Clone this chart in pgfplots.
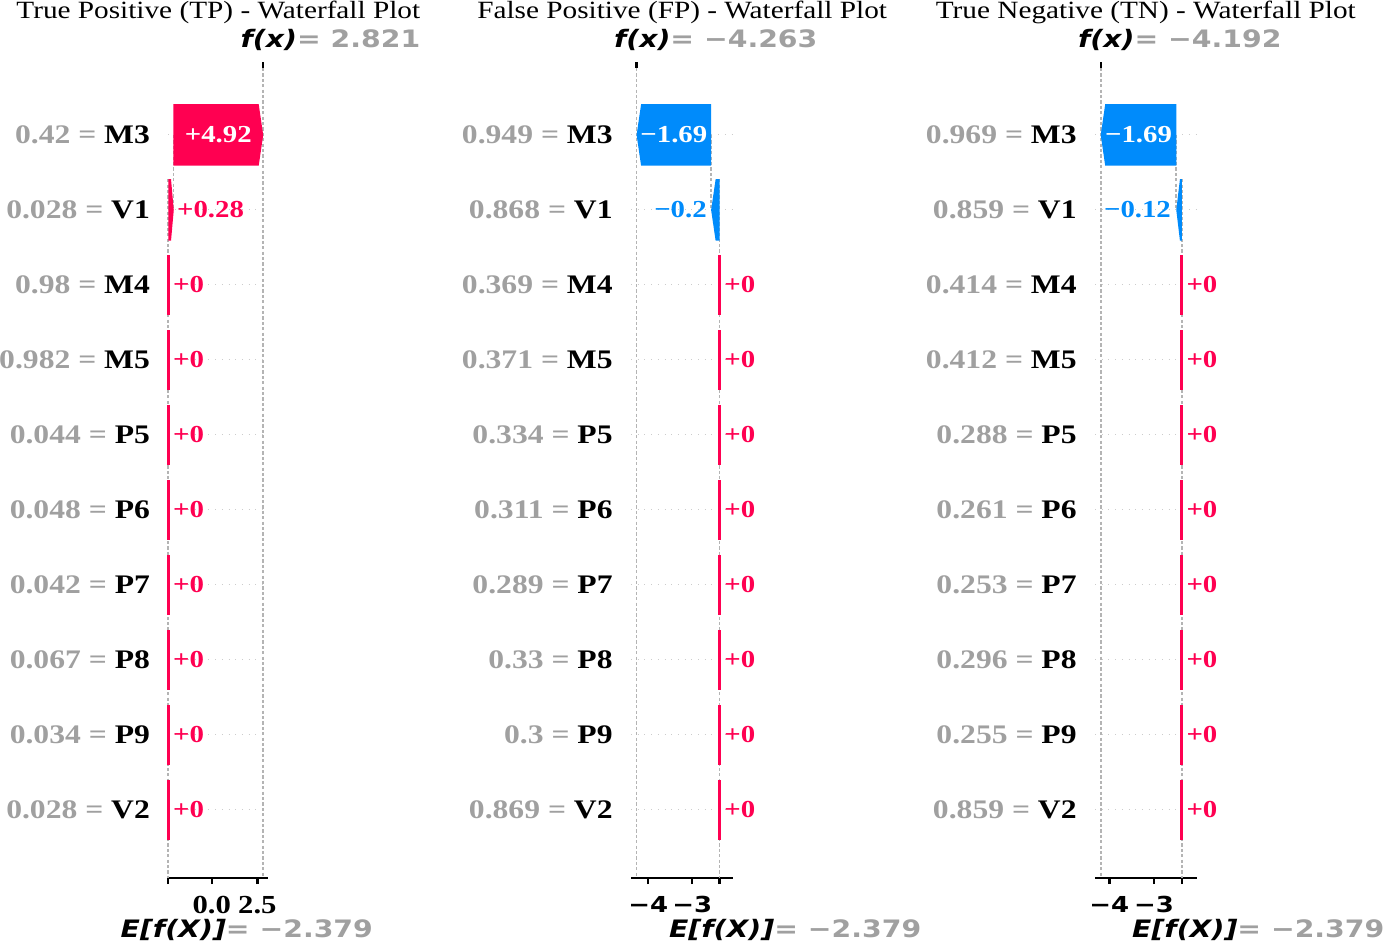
\documentclass[border=0pt]{standalone}
\usepackage{fontspec}
\setmainfont{Liberation Serif}[FakeStretch=1.18]
\newfontfamily\dejavu{DejaVu Sans}[FakeStretch=1.18]
\usepackage{pgfplots}
\pgfplotsset{compat=1.18}

\definecolor{shapred}{HTML}{FF0051}
\definecolor{shapblue}{HTML}{008BFB}
\definecolor{lblgray}{HTML}{A0A0A0}
\definecolor{gridgray}{HTML}{CCCCCC}
\definecolor{dashgray}{HTML}{B4B4B4}

\newcommand{\lbl}[2]{\textcolor{lblgray}{#1 =} #2}
\newcommand{\barfont}{\fontsize{12.2}{14}\selectfont\bfseries}
\newcommand{\fxlabel}[2]{{\dejavu\bfseries\itshape #1}\textcolor{lblgray}{\dejavu\bfseries= #2}}

\pgfplotsset{
  wf/.style={
    scale only axis, height=405pt, anchor=south west,
    ymin=0.107, ymax=10.907, y dir=reverse,
    ytick={1,...,10},
    axis x line*=bottom, axis y line*=left,
    y axis line style={draw=none},
    ytick style={draw=none},
    x axis line style={line width=1.3pt},
    xtick style={line width=1.2pt, black},
    tick align=outside, major tick length=3pt,
    ymajorgrids,
    major grid style={gridgray, line width=0.5pt, dash pattern=on 0.5pt off 2.85pt},
    yticklabel style={font=\fontsize{13.4}{15}\selectfont\bfseries, anchor=east, inner sep=0pt, xshift=-6pt},
    xticklabel style={inner sep=0pt, yshift=-6pt},
    title style={at={(0.5,1)}, anchor=base, yshift=18.5pt, font=\fontsize{12.4}{15}\selectfont},
    clip=false,
  },
  dline/.style={dashgray, line width=0.8pt, dash pattern=on 1.6pt off 1.1pt, forget plot},
  zerobars/.style={only marks, mark=none, forget plot,
    nodes near coords={+0},
    every node near coord/.append style={anchor=west, text=shapred, font=\barfont, inner sep=0pt, xshift=2.2pt},
    error bars/.cd, y dir=both, y fixed=0.4, error mark=none,
    error bar style={shapred, line width=1.3pt}},
}

\begin{document}
\begin{tikzpicture}

% ---- True Positive ----
\begin{axis}[wf, at={(0pt,0pt)}, width=50pt,
  xmin=-2.379, xmax=3.10,
  xtick={-2.379,0,2.5}, xticklabels={,0.0,2.5},
  xticklabel style={font=\fontsize{13}{15}\selectfont\bfseries},
  yticklabels={{\lbl{0.42}{M3}},{\lbl{0.028}{V1}},{\lbl{0.98}{M4}},{\lbl{0.982}{M5}},{\lbl{0.044}{P5}},
               {\lbl{0.048}{P6}},{\lbl{0.042}{P7}},{\lbl{0.067}{P8}},{\lbl{0.034}{P9}},{\lbl{0.028}{V2}}},
  title={True Positive (TP) - Waterfall Plot}]
\addplot[dline] coordinates {(2.821,0.107) (2.821,10.907)};
\addplot[dline] coordinates {(-2.379,1.59) (-2.379,10.907)};
\addplot[dline] coordinates {(-2.099,1) (-2.099,2)};
% M3 +4.92
\addplot[fill=shapred, draw=none, forget plot] coordinates {(-2.099,0.59) (2.574,0.59) (2.821,1) (2.574,1.41) (-2.099,1.41)} -- cycle;
% V1 +0.28
\addplot[fill=shapred, draw=none, forget plot] coordinates {(-2.379,1.59) (-2.23,1.59) (-2.079,2) (-2.23,2.41) (-2.379,2.41)} -- cycle;
\addplot[zerobars] coordinates {(-2.379,3) (-2.379,4) (-2.379,5) (-2.379,6) (-2.379,7) (-2.379,8) (-2.379,9) (-2.379,10)};
\node[text=white, font=\barfont] at (axis cs:0.361,1) {+4.92};
\node[text=shapred, font=\barfont, anchor=west, inner sep=0pt, xshift=1.5pt] at (axis cs:-2.079,2) {+0.28};
\draw[line width=1.2pt] (axis cs:2.821,0.107) -- ([yshift=3pt]axis cs:2.821,0.107);
\node[anchor=base west, inner sep=0pt, xshift=-11.5pt, yshift=10pt, font=\fontsize{12}{14}\selectfont] at (axis cs:2.821,0.107) {\fxlabel{f(x)}{2.821}};
\node[anchor=base west, inner sep=0pt, xshift=-24pt, yshift=-29.8pt, font=\fontsize{12}{14}\selectfont] at (axis cs:-2.379,10.907) {\fxlabel{E[f(X)]}{−2.379}};
\end{axis}

% ---- False Positive ----
\begin{axis}[wf, at={(231.35pt,0pt)}, width=51.15pt,
  xmin=-4.39, xmax=-2.07,
  xtick={-4,-3,-2.379}, xticklabels={−4,−3,},
  xticklabel style={font=\dejavu\fontsize{11}{13}\selectfont\bfseries},
  yticklabels={{\lbl{0.949}{M3}},{\lbl{0.868}{V1}},{\lbl{0.369}{M4}},{\lbl{0.371}{M5}},{\lbl{0.334}{P5}},
               {\lbl{0.311}{P6}},{\lbl{0.289}{P7}},{\lbl{0.33}{P8}},{\lbl{0.3}{P9}},{\lbl{0.869}{V2}}},
  title={False Positive (FP) - Waterfall Plot}]
\addplot[dline] coordinates {(-4.263,0.107) (-4.263,10.907)};
\addplot[dline] coordinates {(-2.379,1.59) (-2.379,10.907)};
\addplot[dline] coordinates {(-2.573,1) (-2.573,2)};
% M3 -1.69
\addplot[fill=shapblue, draw=none, forget plot] coordinates {(-2.573,0.59) (-4.161,0.59) (-4.263,1) (-4.161,1.41) (-2.573,1.41)} -- cycle;
% V1 -0.2
\addplot[fill=shapblue, draw=none, forget plot] coordinates {(-2.379,1.59) (-2.471,1.59) (-2.573,2) (-2.471,2.41) (-2.379,2.41)} -- cycle;
\addplot[zerobars] coordinates {(-2.379,3) (-2.379,4) (-2.379,5) (-2.379,6) (-2.379,7) (-2.379,8) (-2.379,9) (-2.379,10)};
\node[text=white, font=\barfont] at (axis cs:-3.418,1) {−1.69};
\node[text=shapblue, font=\barfont, anchor=east, inner sep=0pt, xshift=-2pt] at (axis cs:-2.573,2) {−0.2};
\draw[line width=1.2pt] (axis cs:-4.263,0.107) -- ([yshift=3pt]axis cs:-4.263,0.107);
\node[anchor=base west, inner sep=0pt, xshift=-11.5pt, yshift=10pt, font=\fontsize{12}{14}\selectfont] at (axis cs:-4.263,0.107) {\fxlabel{f(x)}{−4.263}};
\node[anchor=base west, inner sep=0pt, xshift=-25.5pt, yshift=-29.8pt, font=\fontsize{12}{14}\selectfont] at (axis cs:-2.379,10.907) {\fxlabel{E[f(X)]}{−2.379}};
\end{axis}

% ---- True Negative ----
\begin{axis}[wf, at={(463.35pt,0pt)}, width=50.85pt,
  xmin=-4.32, xmax=-2.045,
  xtick={-4,-3,-2.379}, xticklabels={−4,−3,},
  xticklabel style={font=\dejavu\fontsize{11}{13}\selectfont\bfseries},
  yticklabels={{\lbl{0.969}{M3}},{\lbl{0.859}{V1}},{\lbl{0.414}{M4}},{\lbl{0.412}{M5}},{\lbl{0.288}{P5}},
               {\lbl{0.261}{P6}},{\lbl{0.253}{P7}},{\lbl{0.296}{P8}},{\lbl{0.255}{P9}},{\lbl{0.859}{V2}}},
  title={True Negative (TN) - Waterfall Plot}]
\addplot[dline] coordinates {(-4.192,0.107) (-4.192,10.907)};
\addplot[dline] coordinates {(-2.379,1.59) (-2.379,10.907)};
\addplot[dline] coordinates {(-2.502,1) (-2.502,2)};
% M3 -1.69
\addplot[fill=shapblue, draw=none, forget plot] coordinates {(-2.502,0.59) (-4.092,0.59) (-4.192,1) (-4.092,1.41) (-2.502,1.41)} -- cycle;
% V1 -0.12
\addplot[fill=shapblue, draw=none, forget plot] coordinates {(-2.379,1.59) (-2.42,1.59) (-2.502,2) (-2.42,2.41) (-2.379,2.41)} -- cycle;
\addplot[zerobars] coordinates {(-2.379,3) (-2.379,4) (-2.379,5) (-2.379,6) (-2.379,7) (-2.379,8) (-2.379,9) (-2.379,10)};
\node[text=white, font=\barfont] at (axis cs:-3.347,1) {−1.69};
\node[text=shapblue, font=\barfont, anchor=east, inner sep=0pt, xshift=-2.5pt] at (axis cs:-2.502,2) {−0.12};
\draw[line width=1.2pt] (axis cs:-4.192,0.107) -- ([yshift=3pt]axis cs:-4.192,0.107);
\node[anchor=base west, inner sep=0pt, xshift=-11.5pt, yshift=10pt, font=\fontsize{12}{14}\selectfont] at (axis cs:-4.192,0.107) {\fxlabel{f(x)}{−4.192}};
\node[anchor=base west, inner sep=0pt, xshift=-25pt, yshift=-29.8pt, font=\fontsize{12}{14}\selectfont] at (axis cs:-2.379,10.907) {\fxlabel{E[f(X)]}{−2.379}};
\end{axis}

\pgfresetboundingbox
\useasboundingbox (-84.15pt,-31.5pt) rectangle (610.85pt,439pt);
\end{tikzpicture}
\end{document}
